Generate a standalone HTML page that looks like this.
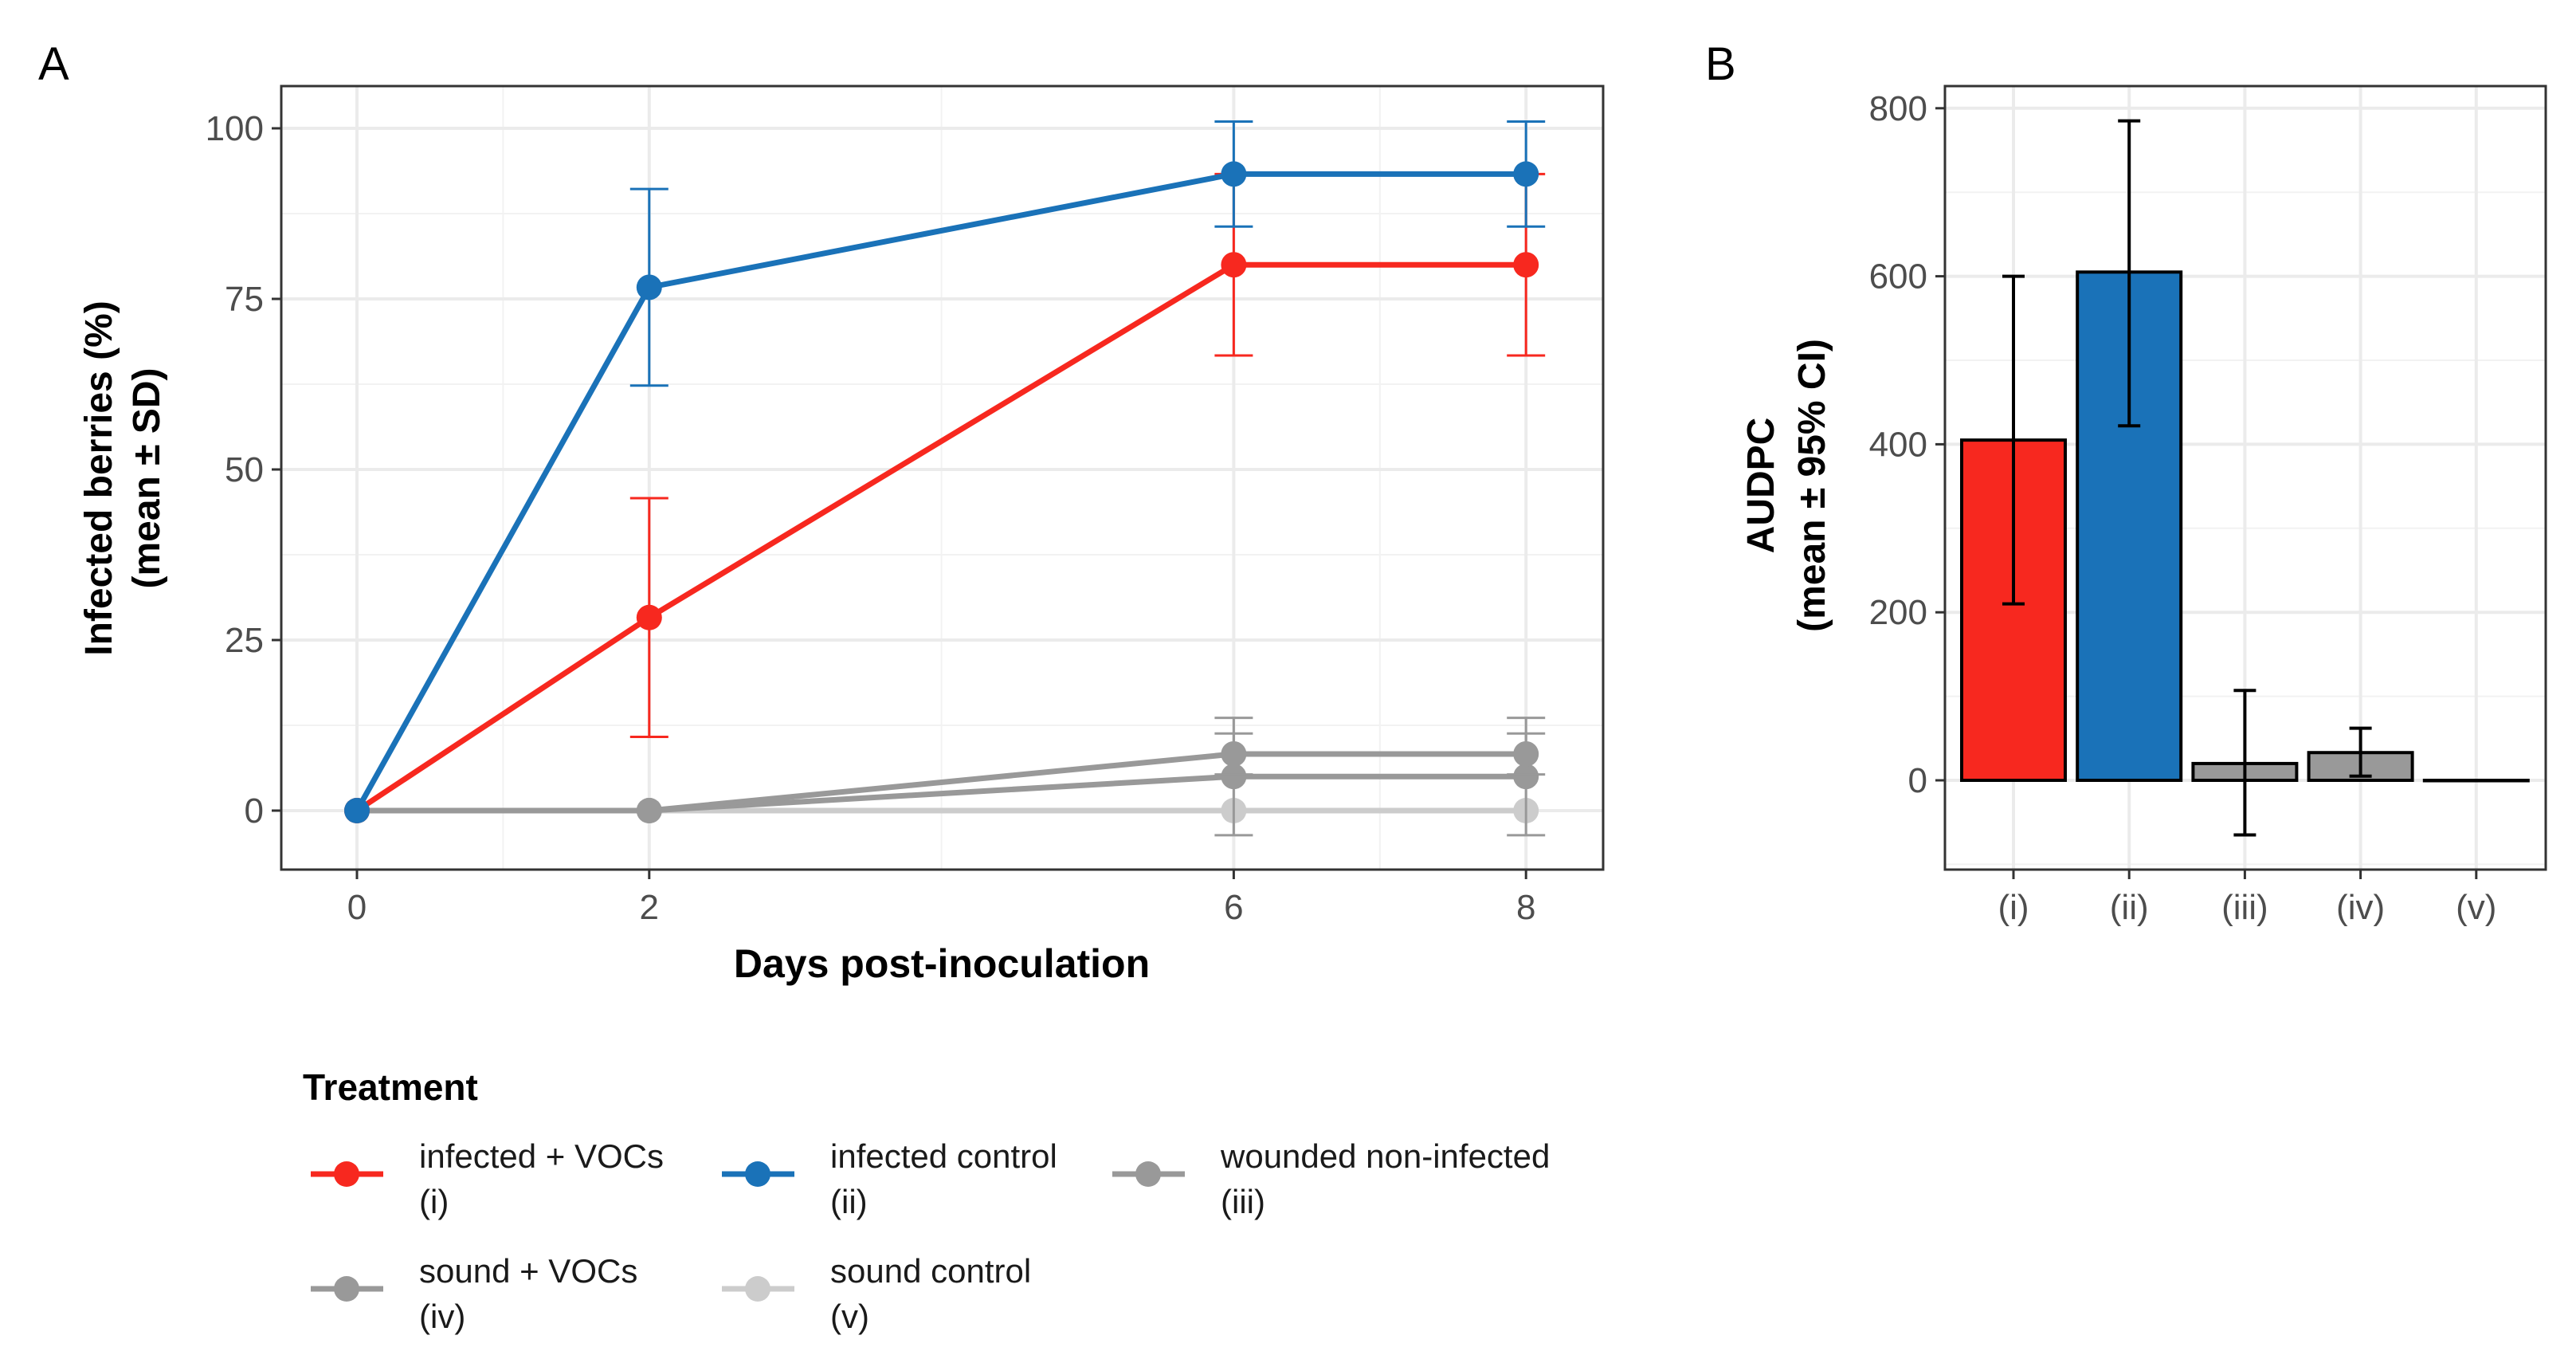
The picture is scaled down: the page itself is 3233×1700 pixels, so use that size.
<!DOCTYPE html>
<html><head><meta charset="utf-8"><style>
html,body{margin:0;padding:0;background:#fff;}
svg{display:block;font-family:"Liberation Sans",sans-serif;}
</style></head><body>
<svg id="fig" width="3233" height="1700" viewBox="0 0 3233 1700" xmlns="http://www.w3.org/2000/svg">
<g id="pa"></g>
<g id="pb"></g>
<g id="leg"></g>
</svg>
<script>
// Panel A data
const days = [0, 2, 6, 8];
const seriesNames = ["infected + VOCs", "infected control", "wounded non-infected", "sound + VOCs", "sound control"];
const seriesCodes = ["(i)", "(ii)", "(iii)", "(iv)", "(v)"];
const seriesColors = ["#f7281f", "#1a72b8", "#999999", "#999999", "#cccccc"];
const valsI = [0, 28.3, 80, 80];
const sdI = [0, 17.5, 13.3, 13.3];
const valsII = [0, 76.7, 93.3, 93.3];
const sdII = [0, 14.4, 7.7, 7.7];
const valsIII = [0, 0, 8.3, 8.3];
const sdIII = [0, 0, 3, 3];
const valsIV = [0, 0, 5, 5];
const sdIV = [0, 0, 8.6, 8.6];
const valsV = [0, 0, 0, 0];
const sdV = [0, 0, 0, 0];
const yTicksA = [0, 25, 50, 75, 100];
const xTicksA = [0, 2, 6, 8];
// Panel B data
const barCats = ["(i)", "(ii)", "(iii)", "(iv)", "(v)"];
const barVals = [405, 605, 20, 33, 0];
const barLo = [210, 422, -65, 5, 0];
const barHi = [600, 785, 107, 62, 0];
const barColors = ["#f7281f", "#1a72b8", "#999999", "#999999", "#333333"];
const yTicksB = [0, 200, 400, 600, 800];

const NS = "http://www.w3.org/2000/svg";
function mk(parent, tag, attrs, text) {
  const e = document.createElementNS(NS, tag);
  for (const k in attrs) e.setAttribute(k, attrs[k]);
  if (text !== undefined) e.textContent = text;
  parent.appendChild(e);
  return e;
}
const pa = document.getElementById('pa');
const pb = document.getElementById('pb');
const leg = document.getElementById('leg');

// ---- Panel A ----
const A = {l: 353, r: 2012, t: 108, b: 1091};
const xA = d => 448 + d * 183.4;
const yA = v => 1017 - v * 8.56;
let t;
t = mk(pa, 'text', {x: 48, y: 100, 'font-size': 58, fill: '#000'}, 'A');


// minor grid
[1, 4, 7].forEach(d => { mk(pa, 'line', {x1: xA(d), x2: xA(d), y1: A.t, y2: A.b, stroke: '#f2f2f2', 'stroke-width': 2}); });
[12.5, 37.5, 62.5, 87.5].forEach(v => { mk(pa, 'line', {x1: A.l, x2: A.r, y1: yA(v), y2: yA(v), stroke: '#f2f2f2', 'stroke-width': 2}); });
xTicksA.forEach(d => {
  const g = mk(pa, 'line', {x1: xA(d), x2: xA(d), y1: A.t, y2: A.b, stroke: '#ebebeb', 'stroke-width': 4});
  
  
  mk(pa, 'line', {x1: xA(d), x2: xA(d), y1: A.b, y2: A.b + 12, stroke: '#333', 'stroke-width': 3});
  const lb = mk(pa, 'text', {x: xA(d), y: A.b + 62, 'font-size': 44, fill: '#4d4d4d', 'text-anchor': 'middle'}, String(d));
  
  
});
yTicksA.forEach(v => {
  const g = mk(pa, 'line', {x1: A.l, x2: A.r, y1: yA(v), y2: yA(v), stroke: '#ebebeb', 'stroke-width': 4});
  
  
  mk(pa, 'line', {x1: A.l - 12, x2: A.l, y1: yA(v), y2: yA(v), stroke: '#333', 'stroke-width': 3});
  const lb = mk(pa, 'text', {x: A.l - 22, y: yA(v) + 15, 'font-size': 44, fill: '#4d4d4d', 'text-anchor': 'end'}, String(v));
  
  
});
const allVals = [valsV, valsIV, valsIII, valsI, valsII];
const allSd = [sdV, sdIV, sdIII, sdI, sdII];
const order = [4, 3, 2, 0, 1];
order.forEach((si, k) => {
  const vals = allVals[k], sd = allSd[k], col = seriesColors[si];
  const sg = mk(pa, 'g', {});
  
  
  days.forEach((d, i) => {
    if (sd[i] > 0) {
      const x = xA(d), y1 = yA(vals[i] - sd[i]), y2 = yA(vals[i] + sd[i]);
      mk(sg, 'line', {x1: x, x2: x, y1: y1, y2: y2, stroke: col, 'stroke-width': 3});
      mk(sg, 'line', {x1: x - 24, x2: x + 24, y1: y1, y2: y1, stroke: col, 'stroke-width': 3});
      mk(sg, 'line', {x1: x - 24, x2: x + 24, y1: y2, y2: y2, stroke: col, 'stroke-width': 3});
    }
  });
  mk(sg, 'polyline', {points: days.map((d, i) => xA(d) + ',' + yA(vals[i])).join(' '), fill: 'none', stroke: col, 'stroke-width': 7});
  days.forEach((d, i) => {
    const c = mk(sg, 'circle', {cx: xA(d), cy: yA(vals[i]), r: 16, fill: col});
    
    
  });
});
const frA = mk(pa, 'rect', {x: A.l, y: A.t, width: A.r - A.l, height: A.b - A.t, fill: 'none', stroke: '#333', 'stroke-width': 3});


t = mk(pa, 'text', {x: 1182, y: 1226, 'font-size': 50, 'font-weight': 'bold', 'text-anchor': 'middle', fill: '#000'}, 'Days post-inoculation');


t = mk(pa, 'text', {transform: 'translate(140,600) rotate(-90)', 'font-size': 48, 'font-weight': 'bold', 'text-anchor': 'middle', fill: '#000'}, 'Infected berries (%)');


t = mk(pa, 'text', {transform: 'translate(200,600) rotate(-90)', 'font-size': 48, 'font-weight': 'bold', 'text-anchor': 'middle', fill: '#000'}, '(mean ± SD)');



// ---- Panel B ----
const B = {l: 2441, r: 3195, t: 108, b: 1091};
const xB = i => 2527 + i * 145.2;
const yB = v => 979 - v * 1.054;
t = mk(pb, 'text', {x: 2140, y: 100, 'font-size': 58, fill: '#000'}, 'B');


[100, 300, 500, 700, -100].forEach(v => { if (yB(v) < B.b) mk(pb, 'line', {x1: B.l, x2: B.r, y1: yB(v), y2: yB(v), stroke: '#f2f2f2', 'stroke-width': 2}); });
yTicksB.forEach(v => {
  const g = mk(pb, 'line', {x1: B.l, x2: B.r, y1: yB(v), y2: yB(v), stroke: '#ebebeb', 'stroke-width': 4});
  
  
  mk(pb, 'line', {x1: B.l - 12, x2: B.l, y1: yB(v), y2: yB(v), stroke: '#333', 'stroke-width': 3});
  const lb = mk(pb, 'text', {x: B.l - 22, y: yB(v) + 15, 'font-size': 44, fill: '#4d4d4d', 'text-anchor': 'end'}, String(v));
  
  
});
barCats.forEach((c, i) => {
  const g = mk(pb, 'line', {x1: xB(i), x2: xB(i), y1: B.t, y2: B.b, stroke: '#ebebeb', 'stroke-width': 4});
  
  
  mk(pb, 'line', {x1: xB(i), x2: xB(i), y1: B.b, y2: B.b + 12, stroke: '#333', 'stroke-width': 3});
  const lb = mk(pb, 'text', {x: xB(i), y: B.b + 62, 'font-size': 44, fill: '#4d4d4d', 'text-anchor': 'middle'}, c);
  
  
});
barCats.forEach((c, i) => {
  const w = 130, y0 = yB(0), yv = yB(barVals[i]);
  const r = mk(pb, 'rect', {x: xB(i) - w / 2, y: Math.min(y0, yv), width: w, height: Math.max(Math.abs(y0 - yv), 0.5), fill: barColors[i], stroke: '#000', 'stroke-width': 4});
  
  
});
barCats.forEach((c, i) => {
  if (barHi[i] === barLo[i]) return;
  const x = xB(i), y1 = yB(barLo[i]), y2 = yB(barHi[i]);
  const eg = mk(pb, 'g', {stroke: '#000', 'stroke-width': 4});
  
  
  mk(eg, 'line', {x1: x, x2: x, y1: y1, y2: y2});
  mk(eg, 'line', {x1: x - 14, x2: x + 14, y1: y1, y2: y1});
  mk(eg, 'line', {x1: x - 14, x2: x + 14, y1: y2, y2: y2});
});
const frB = mk(pb, 'rect', {x: B.l, y: B.t, width: B.r - B.l, height: B.b - B.t, fill: 'none', stroke: '#333', 'stroke-width': 3});


t = mk(pb, 'text', {transform: 'translate(2226,609) rotate(-90)', 'font-size': 48, 'font-weight': 'bold', 'text-anchor': 'middle', fill: '#000'}, 'AUDPC');


t = mk(pb, 'text', {transform: 'translate(2290,609) rotate(-90)', 'font-size': 48, 'font-weight': 'bold', 'text-anchor': 'middle', fill: '#000'}, '(mean ± 95% CI)');



// ---- Legend ----
t = mk(leg, 'text', {x: 380, y: 1380, 'font-size': 46, 'font-weight': 'bold', fill: '#000'}, 'Treatment');


const keyX = [390, 906, 1396];
const rowY = [1473, 1617];
seriesNames.forEach((n, i) => {
  const col = i % 3, row = Math.floor(i / 3);
  const kx = keyX[col], ky = rowY[row];
  const g = mk(leg, 'g', {});
  
  
  mk(g, 'line', {x1: kx, x2: kx + 91, y1: ky, y2: ky, stroke: seriesColors[i], 'stroke-width': 7});
  mk(g, 'circle', {cx: kx + 45, cy: ky, r: 16, fill: seriesColors[i]});
  mk(g, 'text', {x: kx + 136, y: ky - 8, 'font-size': 42, fill: '#1a1a1a'}, n);
  mk(g, 'text', {x: kx + 136, y: ky + 49, 'font-size': 42, fill: '#1a1a1a'}, seriesCodes[i]);
});
</script>
</body></html>
